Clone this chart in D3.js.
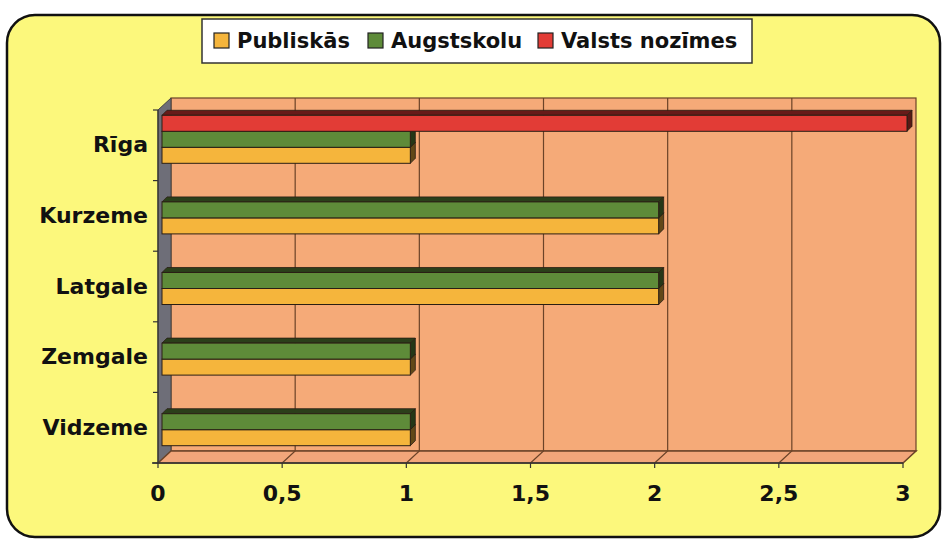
<!DOCTYPE html>
<html>
<head>
<meta charset="utf-8">
<script src="https://cdn.jsdelivr.net/npm/d3@7/dist/d3.min.js"></script>
<style>
  body { margin: 0; background: #fff; }
  text { font-family: "DejaVu Sans", sans-serif; font-weight: bold; fill: #111; }
</style>
</head>
<body>
<div id="chart"></div>
<script>
// data
var regions = ["Rīga", "Kurzeme", "Latgale", "Zemgale", "Vidzeme"];
var seriesNames = ["Valsts nozīmes", "Augstskolu", "Publiskās"]; // top to bottom within a group
var publiskas = [1, 2, 2, 1, 1];
var augstskolu = [1, 2, 2, 1, 1];
var valsts = [3, 0, 0, 0, 0];
var xTicks = [0, 0.5, 1, 1.5, 2, 2.5, 3];
var legendOrder = ["Publiskās", "Augstskolu", "Valsts nozīmes"];

var colors = {
  "Publiskās": "#f5b53c",
  "Augstskolu": "#5e8b39",
  "Valsts nozīmes": "#e23c36"
};
var valuesBySeries = {
  "Publiskās": publiskas,
  "Augstskolu": augstskolu,
  "Valsts nozīmes": valsts
};

var W = 946, H = 541;
var svg = d3.select("#chart").append("svg").attr("width", W).attr("height", H);

// frame
svg.append("rect")
  .attr("x", 7).attr("y", 15).attr("width", 933).attr("height", 522)
  .attr("rx", 28).attr("ry", 28)
  .attr("fill", "#fcf87c").attr("stroke", "#111").attr("stroke-width", 2.5);

// plot geometry
var pLeft = 158, pRight = 903, pTop = 110, pBottom = 463;
var dx = 13, dy = -12; // wall depth

var x = d3.scaleLinear().domain([0, 3]).range([pLeft, pRight]);
var y = d3.scaleBand().domain(regions).range([pTop, pBottom]).paddingInner(0.32).paddingOuter(0.16);
var ys = d3.scaleBand().domain(seriesNames).range([0, y.bandwidth()]);

var wallColor = "#f5aa78";
var lineColor = "#6b4328";

// back wall
svg.append("rect")
  .attr("x", pLeft + dx).attr("y", pTop + dy)
  .attr("width", pRight - pLeft).attr("height", pBottom - pTop)
  .attr("fill", wallColor).attr("stroke", lineColor).attr("stroke-width", 1.2);

// left side wall
svg.append("polygon")
  .attr("points", [[pLeft, pTop], [pLeft + dx, pTop + dy], [pLeft + dx, pBottom + dy], [pLeft, pBottom]].join(" "))
  .attr("fill", "#6e6e78").attr("stroke", "#444").attr("stroke-width", 1);

// floor
svg.append("polygon")
  .attr("points", [[pLeft, pBottom], [pRight, pBottom], [pRight + dx, pBottom + dy], [pLeft + dx, pBottom + dy]].join(" "))
  .attr("fill", "#f2a67a").attr("stroke", lineColor).attr("stroke-width", 1.5);

// gridlines on wall and floor
svg.append("g").selectAll("path")
  .data(xTicks.slice(1, -1))
  .join("path")
  .attr("d", function (d) {
    var px = x(d);
    return "M" + px + "," + pBottom + "L" + (px + dx) + "," + (pBottom + dy) + "L" + (px + dx) + "," + (pTop + dy);
  })
  .attr("fill", "none").attr("stroke", lineColor).attr("stroke-width", 1.2);

// x tick marks and labels
var xAxis = svg.append("g");
xAxis.append("line")
  .attr("x1", pLeft - 6).attr("x2", pRight).attr("y1", pBottom).attr("y2", pBottom)
  .attr("stroke", "#333").attr("stroke-width", 1.5);
xAxis.selectAll("line.tick")
  .data(xTicks).join("line").attr("class", "tick")
  .attr("x1", function (d) { return x(d); }).attr("x2", function (d) { return x(d); })
  .attr("y1", pBottom).attr("y2", pBottom + 5)
  .attr("stroke", "#333").attr("stroke-width", 1.2);
xAxis.selectAll("text")
  .data(xTicks).join("text")
  .attr("x", function (d) { return x(d); })
  .attr("y", 501)
  .attr("text-anchor", "middle")
  .style("font-size", "22px")
  .text(function (d) { return String(d).replace(".", ","); });

// y tick marks and labels
var yAxis = svg.append("g");
yAxis.append("line")
  .attr("x1", pLeft).attr("x2", pLeft).attr("y1", pTop).attr("y2", pBottom)
  .attr("stroke", "#333").attr("stroke-width", 1.2);
yAxis.selectAll("line.tick")
  .data(d3.range(regions.length + 1)).join("line").attr("class", "tick")
  .attr("x1", pLeft - 5).attr("x2", pLeft)
  .attr("y1", function (i) { return pTop + i * y.step(); })
  .attr("y2", function (i) { return pTop + i * y.step(); })
  .attr("stroke", "#333").attr("stroke-width", 1.2);
yAxis.selectAll("text")
  .data(regions).join("text")
  .attr("x", 148)
  .attr("y", function (d) { return y(d) + y.bandwidth() / 2 + 1; })
  .attr("text-anchor", "end")
  .attr("dominant-baseline", "middle")
  .style("font-size", "22px")
  .text(function (d) { return d; });

// 3D bars
var ox = 4, oy = -6, bd = 5;
var bars = [];
regions.forEach(function (r, i) {
  // draw bottom series first so the upper bar covers the lower one's top face
  seriesNames.slice().reverse().forEach(function (s) {
    var v = valuesBySeries[s][i];
    if (v > 0) bars.push({ region: r, series: s, value: v });
  });
});

var barG = svg.append("g").selectAll("g").data(bars).join("g");
barG.each(function (d) {
  var g = d3.select(this);
  var x0 = x(0) + ox, x1 = x(d.value) + ox;
  var y0 = y(d.region) + ys(d.series) + oy, h = ys.bandwidth();
  var c = colors[d.series];
  var dark = d3.color(c).darker(2.2);
  var edge = "#2a1e14";
  // top face
  g.append("polygon")
    .attr("points", [[x0, y0], [x1, y0], [x1 + bd, y0 - bd], [x0 + bd, y0 - bd]].join(" "))
    .attr("fill", dark).attr("stroke", edge).attr("stroke-width", 0.8);
  // end face
  g.append("polygon")
    .attr("points", [[x1, y0], [x1 + bd, y0 - bd], [x1 + bd, y0 + h - bd], [x1, y0 + h]].join(" "))
    .attr("fill", d3.color(c).darker(2.6)).attr("stroke", edge).attr("stroke-width", 0.8);
  // front face
  g.append("rect")
    .attr("x", x0).attr("y", y0).attr("width", x1 - x0).attr("height", h)
    .attr("fill", c).attr("stroke", edge).attr("stroke-width", 1);
});

// legend
var lg = svg.append("g");
lg.append("rect")
  .attr("x", 202).attr("y", 19).attr("width", 550).attr("height", 44)
  .attr("fill", "#fff").attr("stroke", "#333").attr("stroke-width", 1.5);
var legendX = [214, 368, 538];
legendOrder.forEach(function (s, i) {
  lg.append("rect")
    .attr("x", legendX[i]).attr("y", 33).attr("width", 15).attr("height", 15)
    .attr("fill", colors[s]).attr("stroke", "#222").attr("stroke-width", 1.2);
  lg.append("text")
    .attr("x", legendX[i] + 23).attr("y", 48)
    .style("font-size", "21px")
    .text(s);
});
</script>
</body>
</html>
